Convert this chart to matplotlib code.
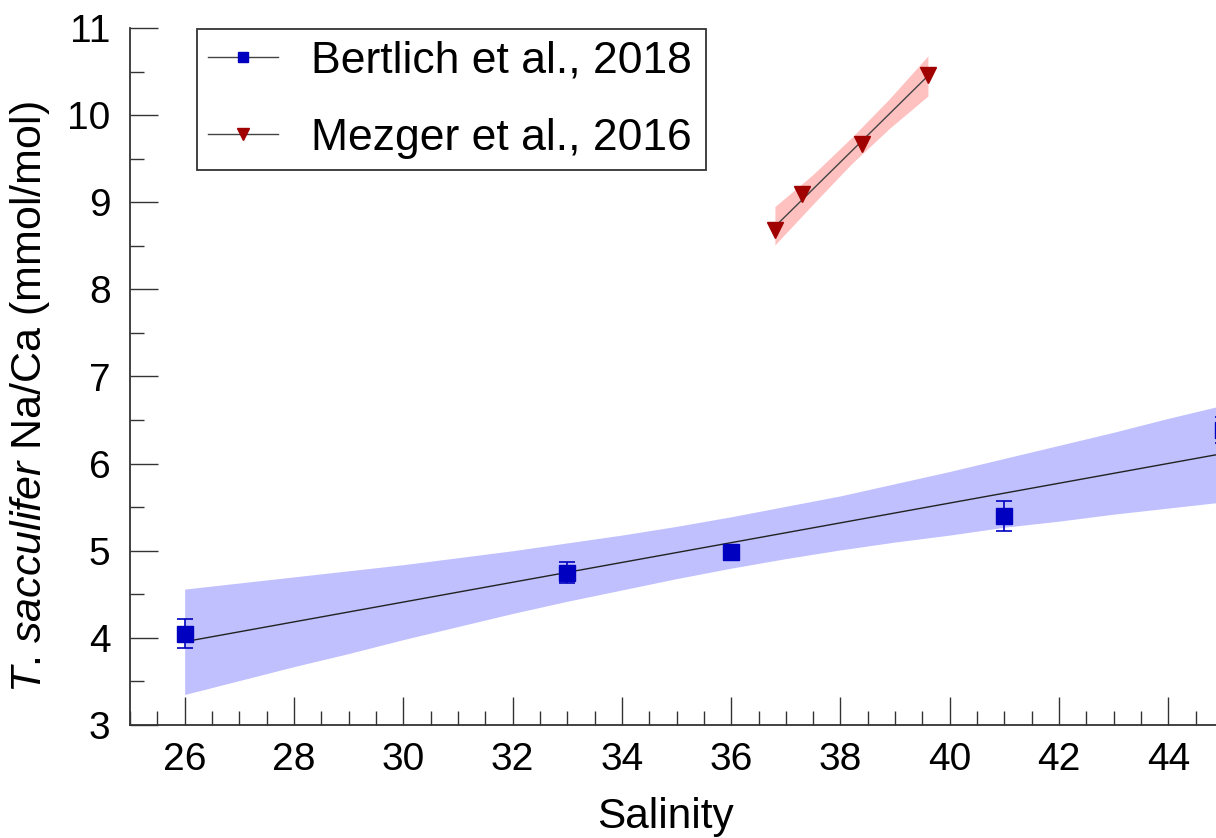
import matplotlib
matplotlib.use("Agg")
import matplotlib.pyplot as plt
from matplotlib.lines import Line2D
from matplotlib.ticker import MultipleLocator

plt.rcParams.update({
    "font.family": "Liberation Sans",
    "mathtext.fontset": "custom",
    "mathtext.rm": "Liberation Sans",
    "mathtext.it": "Liberation Sans:italic",
})

# ---- data ----
sal_b = [26, 33, 36, 41, 45]                 # Bertlich et al., 2018
naca_b = [4.05, 4.75, 4.98, 5.40, 6.39]
err_b = [0.165, 0.125, 0.06, 0.17, 0.15]
fit_b_x = [26, 45]
fit_b_y = [3.956, 6.116]
band_b_x = list(range(26, 46))
band_b_lo = [3.35, 3.51, 3.67, 3.82, 3.98, 4.13, 4.28, 4.42, 4.55, 4.68,
             4.80, 4.91, 5.01, 5.10, 5.18, 5.27, 5.34, 5.42, 5.49, 5.56]
band_b_hi = [4.56, 4.63, 4.70, 4.77, 4.84, 4.92, 5.00, 5.09, 5.18, 5.28,
             5.39, 5.51, 5.63, 5.77, 5.91, 6.06, 6.21, 6.36, 6.52, 6.67]

sal_m = [36.8, 37.3, 38.4, 39.6]             # Mezger et al., 2016
naca_m = [8.68, 9.09, 9.67, 10.46]
fit_m_x = [36.8, 39.6]
fit_m_y = [8.72, 10.45]
band_m_x = [36.8, 37.5, 38.2, 38.9, 39.6]
band_m_lo = [8.51, 8.98, 9.44, 9.85, 10.22]
band_m_hi = [8.95, 9.32, 9.74, 10.19, 10.68]

x_ticks = [26, 28, 30, 32, 34, 36, 38, 40, 42, 44]

BLUE, RED = "#0000c0", "#a00000"
W, H = 1216, 838

fig = plt.figure(figsize=(W / 100, H / 100), dpi=100)
# axes runs past the right edge of the figure (reference is cropped there)
ax = fig.add_axes([130 / W, 113 / H, (1277.7 - 130) / W, 697 / H])

ax.fill_between(band_b_x, band_b_lo, band_b_hi, color="#c0c0ff", lw=0, zorder=1)
ax.fill_between(band_m_x, band_m_lo, band_m_hi, color="#ffc0c0", lw=0, zorder=1)
ax.plot(fit_b_x, fit_b_y, color="#222222", lw=1.0, zorder=2)
ax.plot(fit_m_x, fit_m_y, color="#444444", lw=1.0, zorder=2)
ax.errorbar(sal_b, naca_b, yerr=err_b, fmt="s", color=BLUE, ms=11.5, capsize=5.5,
            elinewidth=1.2, capthick=1.2, zorder=3)
ax.plot(sal_m, naca_m, "v", color=RED, ms=11, zorder=3)

ax.set_xlim(25, 46)
ax.set_ylim(3, 11)
ax.set_xticks(x_ticks)
ax.xaxis.set_minor_locator(MultipleLocator(0.5))
ax.yaxis.set_major_locator(MultipleLocator(1))
ax.yaxis.set_minor_locator(MultipleLocator(0.5))
for s in ("top", "right"):
    ax.spines[s].set_visible(False)
for s in ("left", "bottom"):
    ax.spines[s].set_linewidth(1.3)
    ax.spines[s].set_color("#333333")
ax.tick_params(which="major", direction="in", length=20, width=1.0, color="#333333",
               labelsize=28)
ax.tick_params(which="minor", direction="in", length=10, width=1.0, color="#333333")
ax.tick_params(axis="x", which="major", pad=12)
ax.tick_params(axis="y", which="major", pad=14)

ax.set_xlabel("Salinity", fontsize=30.5)
ax.xaxis.set_label_coords(0.467, -0.104)
ax.set_ylabel(r"$\mathit{T}$. $\mathit{sacculifer}$ Na/Ca (mmol/mol)", fontsize=31)
ax.yaxis.set_label_coords(-0.068, 0.47)

handles = [
    Line2D([], [], color="#444444", lw=1.0, marker="s", ms=7, mfc=BLUE, mec=BLUE),
    Line2D([], [], color="#444444", lw=1.0, marker="v", ms=8, mfc=RED, mec=RED),
]
leg = ax.legend(handles, ["Bertlich et al., 2018", "Mezger et al., 2016"],
                loc="upper left", bbox_to_anchor=(197 / W, 1 - 164 / H, 509 / W, 135 / H),
                bbox_transform=fig.transFigure, mode="expand", borderaxespad=0,
                fontsize=32, fancybox=False, framealpha=1, edgecolor="#333333",
                handlelength=1.57, handletextpad=0.75, borderpad=0.25, labelspacing=0.82)
leg.get_frame().set_linewidth(1.3)

fig.savefig("out.png", dpi=100)
